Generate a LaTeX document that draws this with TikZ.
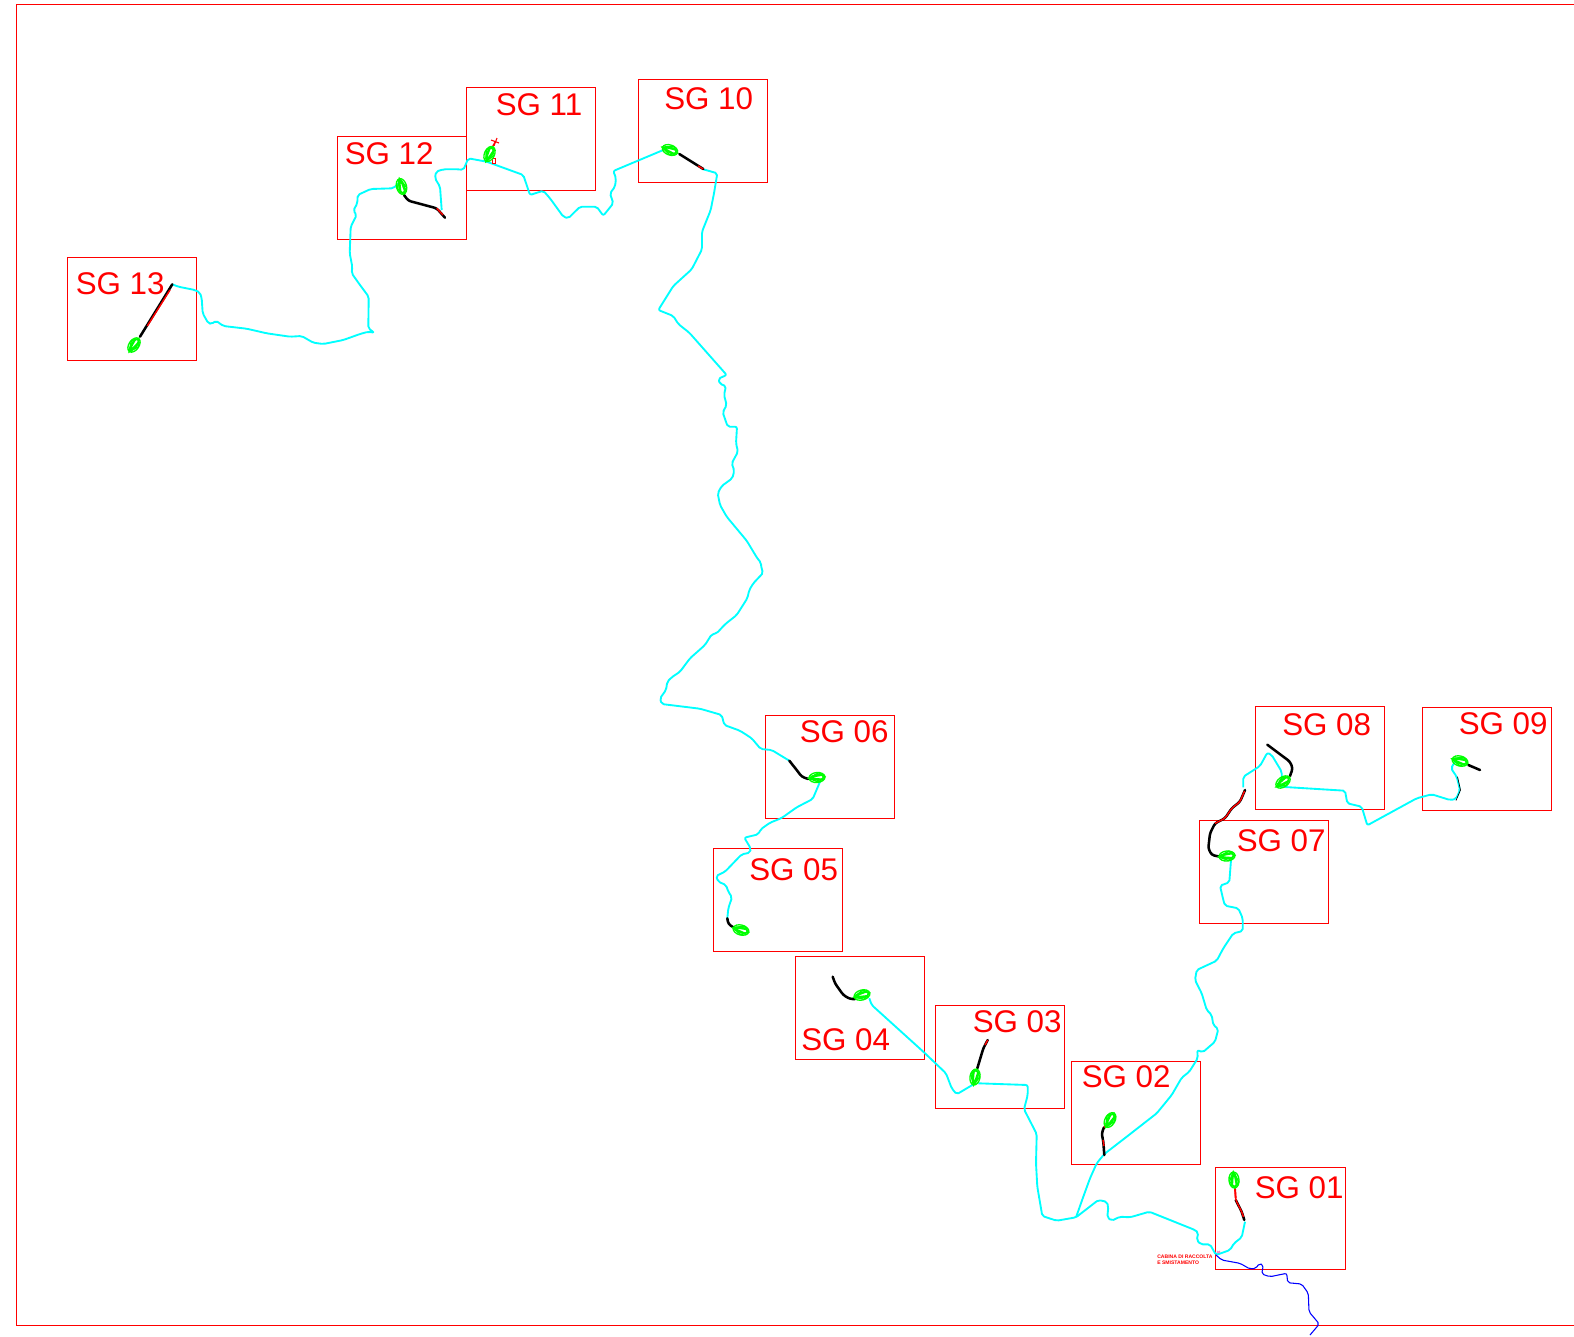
\documentclass[tikz,border=0pt]{standalone}
\usepackage{fontspec}
\setmainfont{Liberation Sans}
\usepackage{tikz}

\newcommand{\sgblob}[3]{%
  \draw [color=sggreen, line width=1pt, shift={(#1,#2)}, rotate=#3] (0,0) ellipse [x radius=8, y radius=5];
  \draw [color=sggreen, line width=1pt, shift={(#1,#2)}, rotate=#3] (1,0) ellipse [x radius=5.5, y radius=2.8];
  \draw [color=sggreen, line width=1pt, shift={(#1,#2)}, rotate=#3] (-8.5,0) -- (2,-4.6) -- (8,0) -- (1,4.6) -- cycle;
  \draw [color=sggreen, line width=1.6pt, shift={(#1,#2)}, rotate=#3] (-7.5,0.5) -- (6,2.6) (-6,-1.2) -- (6,-2.4) (-7,0) -- (-3,0);
}

\begin{document}
\begin{tikzpicture}[x=0.75pt,y=0.75pt,yscale=-1,xscale=1,
  sgframe/.style={color=red, line width=0.75pt},
  sgbox/.style={color=red, line width=0.75pt},
  sglabel/.style={anchor=base west, inner sep=0pt, text=red, font=\fontsize{23.5}{27}\selectfont},
  cableA/.style={color=sgcyan, line width=1.4pt, line join=round, rounded corners=1.5pt},
  cableB/.style={color=blue, line width=0.8pt, line join=round, rounded corners=1.5pt},
  stringA/.style={color=black, line width=1.9pt, line join=round, line cap=round, rounded corners=2pt},
  stringB/.style={color=red, line width=1.1pt, line join=round, rounded corners=2pt}
]
\definecolor{sgcyan}{RGB}{0,255,255}
\definecolor{sggreen}{RGB}{0,255,0}
\useasboundingbox (0,0) rectangle (1574,1336);

%Outer frame
\draw [sgframe] (1574,4.5) -- (16,4.5) -- (16,1325.5) -- (1574,1325.5);

%Field boxes
\draw [sgbox] (1215.5,1167) rectangle (1345,1269);
\draw [sgbox] (1071.5,1061) rectangle (1200,1164);
\draw [sgbox] (935.7,1005) rectangle (1064.7,1108);
\draw [sgbox] (795.7,956) rectangle (924.5,1059);
\draw [sgbox] (713,848) rectangle (842,951);
\draw [sgbox] (765.5,715) rectangle (894,818);
\draw [sgbox] (1199,820) rectangle (1328,923);
\draw [sgbox] (1255.5,706.5) rectangle (1384.5,809);
\draw [sgbox] (1422,707) rectangle (1551,810);
\draw [sgbox] (638.5,79) rectangle (767.5,182);
\draw [sgbox] (466,87) rectangle (595,190);
\draw [sgbox] (337,136) rectangle (466,239);
\draw [sgbox] (67,257) rectangle (196,360);

%Cable 13 to 12
\draw [cableA] (172.3,284.3) -- (178.3,286.7) -- (195,290) -- (200,292.7) -- (201.7,298.3) -- (202.7,313.3) -- (208.3,323.3) -- (211.7,324) -- (216,320.7) -- (223.3,326) -- (246.7,328.7) -- (266.7,333.3) -- (290,336.7) -- (301.7,336) -- (313.3,342.7) -- (323.3,344) -- (343.3,340) -- (360,334) -- (368.3,331.7) -- (374.3,332.7) -- (368.3,328.3) -- (368.7,296.7) -- (360,285) -- (351.7,273.3) -- (352.3,266.7) -- (349.7,253.3) -- (350.7,226.7) -- (356.7,215) -- (353.3,210.7) -- (357.3,203.3) -- (357.7,195) -- (370.7,189) -- (393.3,188.3) -- (398.3,183.3);
%Cable 12 to 10
\draw [cableA] (441.7,210) -- (440,186.7) -- (435,178.3) -- (436,171.7) -- (443.3,169.3) -- (459.3,169.3) -- (463.3,170) -- (468.3,158.3) -- (486.7,161.7) -- (523.3,175) -- (530,195) -- (543.3,190.7) -- (550,198.3) -- (563.3,216.7) -- (568.3,218.3) -- (580,206.7) -- (596.7,206.7) -- (603.3,215.7) -- (613.3,203.3) -- (610,193.3) -- (615,186.7) -- (616,178.3) -- (613.3,171) -- (663.3,150);
%Cable 10 to 06
\draw [cableA] (703.3,169.3) -- (717.3,173.3) -- (714,193.3) -- (710.7,210) -- (702,231.7) -- (702,249.3) -- (691.7,269.3) -- (673.3,286) -- (658.3,310) -- (673.3,316) -- (678.3,324) -- (689.3,332.7) -- (726.7,375) -- (718.3,378.7) -- (720,384) -- (726,386) -- (724,395) -- (726.7,405) -- (722.7,412.3) -- (727.7,426.7) -- (737,426.7) -- (736,443.3) -- (738,451.7) -- (731.7,463.3) -- (734.3,470.7) -- (732.3,478.3) -- (721.7,486) -- (717.7,493.3) -- (720,505) -- (726.7,516.7) -- (746.7,540.7) -- (757.3,558.3) -- (761,562.7) -- (761.3,568.3) -- (763.3,572.7) -- (753.3,583.3) -- (749.3,590) -- (747.3,598.3) -- (736.7,615) -- (725,624.3) -- (716.7,633.3) -- (711.7,634.3) -- (705,645) -- (690,658.3) -- (680,671.7) -- (671.7,677.3) -- (667.3,681.7) -- (666,690) -- (660,698.3) -- (661.7,704) -- (700,708.7) -- (721.7,715) -- (724.3,725) -- (740,730.7) -- (751.7,738.3) -- (760.7,749) -- (771.7,750) -- (789.3,760.7);
%Cable 06 to 05
\draw [cableA] (820,781.7) -- (812.7,799) -- (796.7,807.3) -- (781.7,818) -- (770,822.7) -- (760.7,829.3) -- (758.3,834.3) -- (744.3,837.7) -- (750.7,848.3) -- (750,852.7) -- (741.7,854.3) -- (725,871.7) -- (716,876) -- (718.3,881.7) -- (726,885) -- (728.3,891.7) -- (732,897.3) -- (728.3,908.3) -- (727.3,918.3);
%Cable 04 to 01
\draw [cableA] (869.3,998.3) -- (871.7,1005) -- (923.3,1051.7) -- (946,1073.3) -- (951.7,1088.3) -- (956.7,1094.3) -- (974,1084);
\draw [cableA] (978.3,1083.3) -- (1027.7,1085) -- (1027.7,1095) -- (1024,1109.3) -- (1036.7,1134) -- (1036,1163.3) -- (1037.3,1186.7) -- (1042.3,1216) -- (1056.7,1220.7) -- (1076,1217.3) -- (1098.3,1200) -- (1106.7,1201.7) -- (1108.3,1206.7) -- (1107.3,1217.3) -- (1111.7,1220.7) -- (1120,1216.7) -- (1130,1217.3) -- (1149.3,1211.7) -- (1195,1230) -- (1198.3,1232.7) -- (1196.7,1240) -- (1200.7,1244.3) -- (1210,1244.3) -- (1216,1255) -- (1230,1250) -- (1234,1243.3) -- (1241.7,1237.3) -- (1245,1221.7);
%Cable 02 to 07
\draw [cableA] (1076,1217.3) -- (1083.3,1196.7) -- (1090,1178.3) -- (1096.7,1163.3) -- (1104.3,1154) -- (1126.7,1136.7) -- (1156.7,1113.3) -- (1171.7,1095) -- (1181.7,1077.7) -- (1189.3,1071.7) -- (1197.7,1058.3) -- (1197.3,1050) -- (1202.7,1052.3) -- (1215,1041.7) -- (1218.3,1029) -- (1213.3,1025) -- (1211.7,1015) -- (1206.7,1010) -- (1201.7,993.3) -- (1195,980) -- (1196.7,970) -- (1216.7,960.7) -- (1223.3,948.3) -- (1233.3,933.3) -- (1242.7,931) -- (1242.7,918.3) -- (1238.3,908.3) -- (1225,905.7) -- (1223.3,900) -- (1220,885.7) -- (1229.3,882.3) -- (1231,860);
%Cable 07 to 09
\draw [cableA] (1243.3,787.3) -- (1243.3,776.7) -- (1260,766) -- (1267.3,752.7) -- (1271.7,755) -- (1281.7,771.7) -- (1281.7,781.7);
\draw [cableA] (1280,786.7) -- (1345,790.7) -- (1347.3,803.3) -- (1361.7,806.7) -- (1367.3,825.3) -- (1416.7,798.3) -- (1431.7,794.3) -- (1450,800) -- (1456,799) -- (1460,790) -- (1456.7,776.7) -- (1451,768.3) -- (1455,761.7);

%Blue line
\draw [cableB] (1216,1255) -- (1221.7,1260) -- (1240,1263.3) -- (1250,1269) -- (1256,1268.3) -- (1259.3,1263.3) -- (1263.3,1265) -- (1261.7,1274) -- (1270,1276.7) -- (1286.7,1273.3) -- (1287.7,1282.7) -- (1301.7,1284) -- (1308.3,1293.3) -- (1309,1311.7) -- (1319.3,1324) -- (1310,1335);

%Black strings
\draw [stringA] (172.3,284.3) -- (140,336.7);
\draw [stringA] (404,195) -- (408.3,200.7) -- (436.7,208.3) -- (445,217.7);
\draw [stringA] (679.3,154) -- (703.3,169);
\draw [stringA] (789.3,760.7) -- (796.7,770) -- (801.7,776.7) -- (808.3,779);
\draw [stringA] (727.3,918.3) -- (728.3,924) -- (733.3,927.3);
\draw [stringA] (832.7,976.7) -- (835,983.3) -- (843.3,995) -- (850,999) -- (855,999);
\draw [stringA] (977.3,1068.3) -- (983.3,1048.3) -- (987.7,1040);
\draw [stringA] (1104.3,1155) -- (1103.3,1141.7) -- (1101.7,1133.3) -- (1104,1127.3);
\draw [stringA] (1244.3,1220) -- (1241.7,1211.7) -- (1235.7,1200);
\draw [stringA] (1220,856.7) -- (1211.7,855) -- (1208.3,848.3) -- (1210,833.3) -- (1215,823.3) -- (1225,818.3) -- (1231.7,808.3) -- (1240,801.7) -- (1245,790);
\draw [stringA] (1267.3,744.7) -- (1290,761.7) -- (1292.7,768.3) -- (1290,776);
\draw [stringA] (1468.3,765) -- (1480,770);
\draw [color=black, line width=0.5pt] (1456,800.5) -- (1460.5,790) -- (1457.5,776.7);

%Red overlays
\draw [stringB] (170,290) -- (147.3,326);
\draw [stringB] (436.7,208.3) -- (443,215);
\draw [stringB] (698,166) -- (703.3,169);
\draw [stringB] (1235,1188.3) -- (1235.7,1200) -- (1241.7,1211.7) -- (1243.5,1217);
\draw [stringB, line width=1.4pt] (1235,1188.3) -- (1235.7,1198);
\draw [stringB] (1215,823.3) -- (1225,818.3) -- (1231.7,808.3) -- (1240,801.7) -- (1244.5,791);
\draw [stringB] (985,1045) -- (987.7,1040);
\draw [stringB] (1103,1140) -- (1104,1146);
\draw [stringB] (1104,1127.3) -- (1106,1125);
%Marker at the end of field 11
\draw [color=red, line width=0.8pt] (491,149) -- (495,142) (491,140) -- (499,143) (497,138) -- (494,146);
\draw [color=red, line width=0.5pt] (492.5,158.5) rectangle (495.5,163);
%Mark at the cabin
\draw [color=magenta!50, line width=0.7pt] (1217,1251) -- (1220,1253) (1217,1253) -- (1220,1251);

%Inverter marks
\sgblob{134}{345}{-55}
\sgblob{401.5}{186.5}{75}
\sgblob{489.5}{154}{-65}
\sgblob{670}{150}{20}
\sgblob{817}{777.5}{-5}
\sgblob{741}{930}{15}
\sgblob{862}{995}{-15}
\sgblob{975}{1077}{-80}
\sgblob{1110}{1120}{-60}
\sgblob{1234}{1180}{85}
\sgblob{1227}{856}{-5}
\sgblob{1283}{782}{-35}
\sgblob{1460}{761}{15}

% Text Node
\draw (1254.5,1198.3) node (lbl01) [sglabel] {SG 01};
% Text Node
\draw (1081.5,1087.3) node (lbl02) [sglabel] {SG 02};
% Text Node
\draw (972.5,1032.3) node (lbl03) [sglabel] {SG 03};
% Text Node
\draw (801,1050.3) node (lbl04) [sglabel] {SG 04};
% Text Node
\draw (749,880.3) node (lbl05) [sglabel] {SG 05};
% Text Node
\draw (799.5,742.3) node (lbl06) [sglabel] {SG 06};
% Text Node
\draw (1236.5,851.3) node (lbl07) [sglabel] {SG 07};
% Text Node
\draw (1282,735.3) node (lbl08) [sglabel] {SG 08};
% Text Node
\draw (1458.5,734.3) node (lbl09) [sglabel] {SG 09};
% Text Node
\draw (664,109.3) node (lbl10) [sglabel] {SG 10};
% Text Node
\draw (495.5,115.3) node (lbl11) [sglabel] {SG 11};
% Text Node
\draw (344.5,164.3) node (lbl12) [sglabel] {SG 12};
% Text Node
\draw (75.5,294.3) node (lbl13) [sglabel] {SG 13};
% Text Node
\draw (1157,1260) node (lblcabin) [anchor=west, inner sep=0pt, align=left, text=red, font=\fontsize{3.8}{4.5}\selectfont\bfseries] {CABINA DI RACCOLTA\\E SMISTAMENTO};

\end{tikzpicture}
\end{document}
